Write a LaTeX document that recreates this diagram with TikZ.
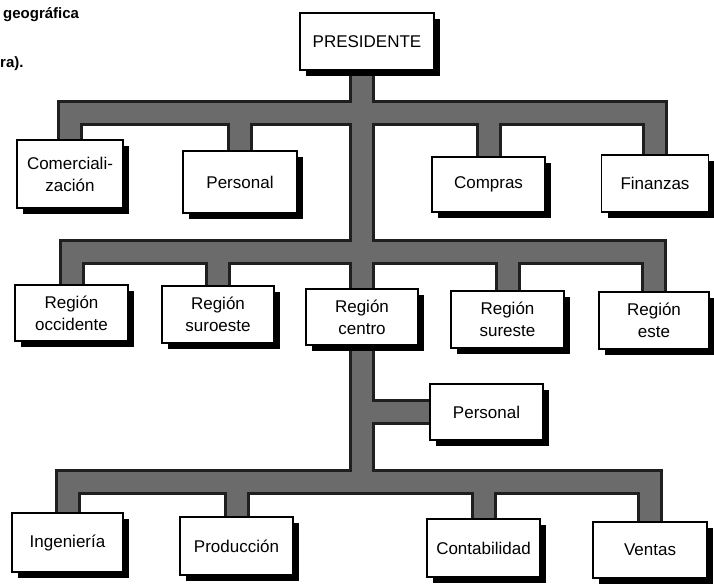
\documentclass[tikz,border=0pt]{standalone}
\usepackage{fontspec}
\setmainfont{Liberation Sans}
\usetikzlibrary{shadows,backgrounds}

% all connector paths, drawn twice: a dark rim, then a grey core
\newcommand\orgbars{%
  % president trunk down to the lowest bar
  \draw[bar] (cen.north |- pres.south) -- (cen.north |- lowbar);
  % first staff level
  \draw[bar] (com.north) -- (com.north |- topbar) -- (fin.north |- topbar) -- (fin.north);
  \draw[bar] (per1.north) -- (per1.north |- topbar);
  \draw[bar] (comp.north) -- (comp.north |- topbar);
  % regions
  \draw[bar] (occ.north) -- (occ.north |- midbar) -- (este.north |- midbar) -- (este.north);
  \draw[bar] (sur.north) -- (sur.north |- midbar);
  \draw[bar] (sure.north) -- (sure.north |- midbar);
  % staff of the central region
  \draw[bar] (cen.north |- per2.west) -- (per2.west);
  % functional departments
  \draw[bar] (ing.north) -- (ing.north |- lowbar) -- (vent.north |- lowbar) -- (vent.north);
  \draw[bar] (prod.north) -- (prod.north |- lowbar);
  \draw[bar] (cont.north) -- (cont.north |- lowbar);
}

\begin{document}
\begin{tikzpicture}[x=1pt,y=-1pt,
  unit/.style={draw=black,line width=1.3pt,fill=white,inner sep=0pt,
    align=center,font=\fontsize{17}{22}\selectfont,
    drop shadow={shadow xshift=6pt,shadow yshift=-6pt,fill=black,opacity=1}},
  fragment/.style={anchor=west,inner sep=0pt,font=\fontsize{15}{18}\selectfont\bfseries}]
\useasboundingbox (0,0) rectangle (714,584);

% bar levels
\coordinate (topbar) at (0,113);
\coordinate (midbar) at (0,252);
\coordinate (lowbar) at (0,482);

% fragments of the surrounding page text
\node[fragment] (frag1) at (3,15) {geográfica};
\node[fragment] (frag2) at (0,64) {ra).};

% president
\node[unit,minimum width=134pt,minimum height=57pt] (pres) at (367,41.5) {PRESIDENTE};

% staff departments
\node[unit,minimum width=106pt,minimum height=68pt] (com)  at (70,174)    {Comerciali-\\zación};
\node[unit,minimum width=114pt,minimum height=62pt] (per1) at (240,182)   {Personal};
\node[unit,minimum width=113pt,minimum height=55pt] (comp) at (488.5,184.5) {Compras};
\node[unit,minimum width=107pt,minimum height=57pt] (fin)  at (655,183.5) {Finanzas};

% regions
\node[unit,minimum width=113pt,minimum height=56pt] (occ)  at (71.5,313)  {Región\\occidente};
\node[unit,minimum width=112pt,minimum height=57pt] (sur)  at (218,314.5) {Región\\suroeste};
\node[unit,minimum width=112pt,minimum height=56pt] (cen)  at (362,317)   {Región\\centro};
\node[unit,minimum width=113pt,minimum height=57pt] (sure) at (507.5,319.5) {Región\\sureste};
\node[unit,minimum width=110pt,minimum height=57pt] (este) at (654,320.5) {Región\\este};

% staff of the central region
\node[unit,minimum width=113pt,minimum height=56pt] (per2) at (486.5,412) {Personal};

% functional departments
\node[unit,minimum width=111pt,minimum height=59pt] (ing)  at (67.5,542.5) {Ingeniería};
\node[unit,minimum width=113pt,minimum height=58pt] (prod) at (236.5,546)  {Producción};
\node[unit,minimum width=113pt,minimum height=58pt] (cont) at (483.5,548)  {Contabilidad};
\node[unit,minimum width=114pt,minimum height=56pt] (vent) at (650,550)    {Ventas};

\begin{scope}[on background layer]
  \begin{scope}[bar/.style={draw=black!88,line width=26pt,line join=miter,line cap=butt}]
    \orgbars
  \end{scope}
  \begin{scope}[bar/.style={draw=black!58,line width=20pt,line join=miter,line cap=butt}]
    \orgbars
  \end{scope}
\end{scope}
\end{tikzpicture}
\end{document}
